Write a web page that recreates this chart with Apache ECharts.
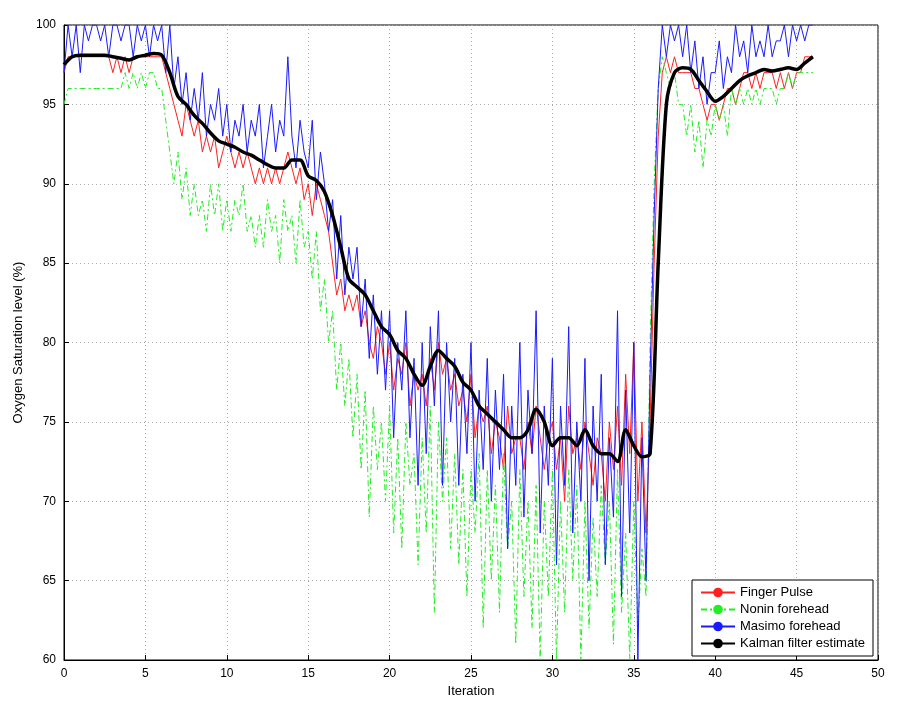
<!DOCTYPE html>
<html>
<head>
<meta charset="utf-8">
<script src="https://cdn.jsdelivr.net/npm/echarts@6/dist/echarts.min.js"></script>
<style>html,body{margin:0;padding:0;background:#fff}#c{width:909px;height:709px}</style>
</head>
<body>
<div id="c"></div>
<script>
// samples every 0.25 iteration, 0..46
const STEP = 0.25;
const fingerPulse = [
  97,98,98,98,98,98,98,98, 98,98,98,98,97,98,97,98, 97,98,98,98,98,98,98,98,
  98,97,96,95,94,93,95,94, 93,94,92,93,92,93,91,92, 93,92,91,92,91,92,91,90,
  91,90,91,90,91,90,91,92, 91,90,91,89,90,88,90,89, 88,87,85,83,84,82,83,82,
  83,81,82,80,79,81,80,78, 80,77,79,78,80,76,78,77, 78,76,79,77,80,78,79,77,
  78,76,77,75,78,74,76,75, 76,73,75,74,72,76,73,74, 74,72,75,73,76,74,72,74,
  75,72,74,70,76,73,74,72, 75,73,71,74,73,70,75,72, 76,71,78,73,80,70,75,68,
  75,85,93,97,98,97,98,97, 97,97,97,96,96,95,94,95, 95,94,95,96,96,95,96,97,
  97,96,97,96,97,97,97,96, 97,96,97,96,97,97,98,98, 98
];
const noninForehead = [
  95,96,96,96,96,96,96,96, 96,96,96,96,96,96,96,97, 96,97,96,97,96,97,97,96,
  96,94,92,90,92,89,91,88, 90,88,89,87,90,88,90,87, 89,87,89,88,90,87,88,86,
  88,86,89,87,88,85,89,87, 88,85,89,86,87,84,87,82, 84,80,82,77,80,76,79,74,
  78,72,77,69,76,72,75,70, 76,68,74,67,75,71,73,66, 74,68,76,63,75,70,74,67,
  73,66,72,64,72,68,73,62, 72,65,71,63,73,67,70,61, 72,64,70,62,71,60,70,64,
  72,60,70,63,72,65,71,60, 70,62,69,64,71,66,70,61, 72,63,68,60,70,62,67,64,
  80,90,96,98,97,96,97,95, 95,93,95,92,94,91,94,93, 95,94,95,93,96,95,96,95,
  96,95,96,95,96,96,96,95, 96,96,97,96,97,97,97,97, 97
];
const masimoForehead = [
  97,100,98,100,97,100,99,100, 100,99,100,98,100,100,99,100, 100,98,100,99,100,98,100,99,
  100,97,100,96,98,95,97,94, 96,94,97,93,95,94,96,93, 95,92,94,93,95,92,94,93,
  95,91,93,95,92,94,93,98, 93,91,94,92,91,94,89,92, 90,87,89,84,88,83,86,84,
  86,81,84,79,83,78,82,77, 82,74,80,77,82,74,79,71, 80,73,81,76,82,71,80,75,
  79,71,78,73,80,70,77,72, 79,70,77,72,78,67,76,71, 80,69,77,73,82,68,76,71,
  79,66,76,71,81,68,75,70, 79,65,76,70,78,66,74,69, 82,64,77,68,80,60,74,65,
  78,88,96,100,98,100,99,100, 98,100,97,99,96,98,95,97, 97,99,96,98,97,100,98,99,
  97,100,98,99,98,100,98,99, 99,100,98,100,99,100,99,100, 100
];
// every 0.5 iteration
const KSTEP = 0.5;
const kalman = [
  97.5,98,98.1,98.1,98.1,98.1,98,97.9,97.8,98,98.1,98.2,98.1,97,95.5,95,94.3,93.8,93.2,92.7,
  92.5,92.3,92,91.8,91.5,91.2,91,91,91.5,91.5,90.5,90.2,89.5,88,86,84,83.5,83,82,81,
  80.5,79.5,79,78,77.3,78.5,79.5,79,78.5,77.5,77,76,75.5,75,74.5,74,74,74.5,75.8,75,
  73.5,74,74,73.5,74.5,73.5,73,73,72.5,74.5,73.5,72.8,73,85,95,97,97.3,97.2,96.5,95.8,
  95.2,95.5,96,96.5,96.8,97,97.2,97.1,97.2,97.3,97.2,97.6,98
];

const pairs = (arr, step) => arr.map((v, i) => [i * step, v]);

const chart = echarts.init(document.getElementById('c'));
chart.setOption({
  animation: false,
  textStyle: { fontFamily: 'Liberation Sans, Arial, sans-serif' },
  grid: { left: 64, right: 31, top: 25, bottom: 49, show: true, borderColor: '#000', borderWidth: 1 },
  xAxis: {
    type: 'value', min: 0, max: 50, interval: 5,
    name: 'Iteration', nameLocation: 'middle', nameGap: 24,
    nameTextStyle: { color: '#000', fontSize: 13 },
    axisLine: { lineStyle: { color: '#000' } },
    axisTick: { inside: true, lineStyle: { color: '#000' } },
    axisLabel: { color: '#000', fontSize: 12 },
    splitLine: { lineStyle: { color: '#aaa', type: [1, 3] } }
  },
  yAxis: {
    type: 'value', min: 60, max: 100, interval: 5,
    name: 'Oxygen Saturation level (%)', nameLocation: 'middle', nameGap: 36,
    nameTextStyle: { color: '#000', fontSize: 13 },
    axisLine: { show: true, lineStyle: { color: '#000' } },
    axisTick: { show: true, inside: true, lineStyle: { color: '#000' } },
    axisLabel: { color: '#000', fontSize: 12 },
    splitLine: { lineStyle: { color: '#aaa', type: [1, 3] } }
  },
  legend: {
    orient: 'vertical', right: 36, bottom: 53,
    backgroundColor: '#fff', borderColor: '#000', borderWidth: 1, borderRadius: 0,
    padding: [6, 8], itemGap: 4, itemWidth: 34, itemHeight: 12,
    textStyle: { color: '#000', fontSize: 13 },
    data: ['Finger Pulse', 'Nonin forehead', 'Masimo forehead', 'Kalman filter estimate']
  },
  series: [
    { name: 'Finger Pulse', type: 'line', symbol: 'none', data: pairs(fingerPulse, STEP),
      lineStyle: { color: '#ff2020', width: 1 }, itemStyle: { color: '#ff2020' } },
    { name: 'Nonin forehead', type: 'line', symbol: 'none', data: pairs(noninForehead, STEP),
      lineStyle: { color: '#22ee22', width: 1, type: [6, 3, 2, 3] }, itemStyle: { color: '#22ee22' } },
    { name: 'Masimo forehead', type: 'line', symbol: 'none', data: pairs(masimoForehead, STEP),
      lineStyle: { color: '#1a1aff', width: 1 }, itemStyle: { color: '#1a1aff' } },
    { name: 'Kalman filter estimate', type: 'line', symbol: 'none', smooth: 0.3, data: pairs(kalman, KSTEP),
      lineStyle: { color: '#000', width: 3.5 }, itemStyle: { color: '#000' } }
  ]
});
</script>
</body>
</html>
